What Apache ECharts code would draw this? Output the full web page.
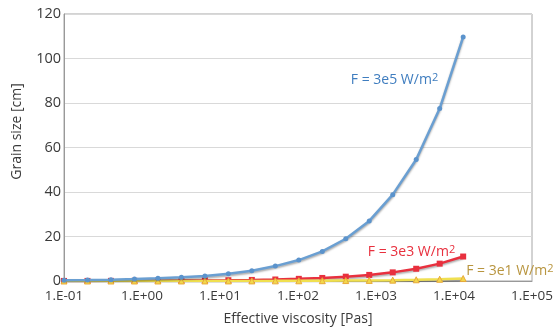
<!DOCTYPE html>
<html><head><meta charset="utf-8">
<script src="https://cdn.jsdelivr.net/npm/echarts@6/dist/echarts.min.js"></script>
<style>html,body{margin:0;padding:0;background:#fff}#c{width:558px;height:329px}</style>
</head><body><div id="c"></div>
<script>
var viscosity = [0.1, 0.2, 0.4, 0.8, 1.6, 3.2, 6.4, 12.8, 25.6, 51.2, 102.4, 204.8, 409.6, 819.2, 1638.4, 3276.8, 6553.6, 13107.2];
var grain3e5 = [0.30, 0.43, 0.61, 0.86, 1.21, 1.7, 2.3, 3.3, 4.6, 6.7, 9.4, 13.3, 19.0, 27.0, 38.8, 54.6, 77.5, 109.7];
var grain3e3 = [0.03, 0.04, 0.06, 0.09, 0.12, 0.17, 0.24, 0.34, 0.48, 0.68, 0.97, 1.37, 1.94, 2.74, 3.88, 5.5, 7.8, 11.0];
var grain3e1 = [0.003, 0.004, 0.006, 0.009, 0.012, 0.017, 0.024, 0.034, 0.048, 0.068, 0.097, 0.137, 0.194, 0.274, 0.388, 0.55, 0.78, 1.1];
var xTickLabels = ['1.E-01', '1.E+00', '1.E+01', '1.E+02', '1.E+03', '1.E+04', '1.E+05'];
var seriesNames = ['F = 3e5 W/m', 'F = 3e3 W/m', 'F = 3e1 W/m'];

var FONT = 'Open Sans';
var TXT = '#3a3a3a';
function pairs(ys){ return viscosity.map(function(v,i){ return [v, ys[i]]; }); }
function shadowLine(color){
  return {color: color, width: 2.5, shadowColor: 'rgba(0,0,0,0.35)', shadowBlur: 2, shadowOffsetY: 1.5};
}
function endLbl(name, color, align, offset){
  return {
    show: true, align: align, offset: offset,
    formatter: function(){ return '{m|' + name + '}{s|2}'; },
    rich: {
      m: {fontFamily: FONT, fontSize: 14, color: color, lineHeight: 16},
      s: {fontFamily: FONT, fontSize: 11, color: color, lineHeight: 16, padding: [0,0,4,0]}
    }
  };
}
var chart = echarts.init(document.getElementById('c'));
chart.setOption({
  animation: false,
  grid: {left: 64, right: 26, top: 14, bottom: 48, outerBoundsMode: 'none', containLabel: false, show: true, borderColor: '#a6a6a6', borderWidth: 1},
  xAxis: {
    type: 'log', logBase: 10, min: 0.1, max: 100000,
    name: 'Effective viscosity [Pas]', nameLocation: 'middle', nameGap: 31,
    nameTextStyle: {fontFamily: FONT, fontSize: 14, color: TXT},
    axisLine: {show: true, lineStyle: {color: '#999'}},
    axisTick: {show: false},
    minorTick: {show: false},
    splitLine: {show: false},
    axisLabel: {
      fontFamily: FONT, fontSize: 13.5, color: TXT, margin: 8,
      formatter: function(v){ var n = Math.round(Math.log10(v)); return xTickLabels[n + 1]; }
    }
  },
  yAxis: {
    type: 'value', min: 0, max: 120, interval: 20,
    name: 'Grain size [cm]', nameLocation: 'middle', nameGap: 40,
    nameTextStyle: {fontFamily: FONT, fontSize: 14, color: TXT, padding: [0,0,0,32]},
    axisLine: {show: true, lineStyle: {color: '#999'}},
    axisTick: {show: false},
    splitLine: {lineStyle: {color: '#d9d9d9'}},
    axisLabel: {fontFamily: FONT, fontSize: 14.5, color: TXT, margin: 3}
  },
  series: [
    {
      name: seriesNames[2], type: 'line', data: pairs(grain3e1), z: 3,
      symbol: 'triangle', symbolSize: 6,
      lineStyle: shadowLine('#f0e050'),
      itemStyle: {color: '#f2d84a', borderColor: '#e8a83a', borderWidth: 1},
      endLabel: endLbl(seriesNames[2], '#b8953f', 'left', [-5, -8])
    },
    {
      name: seriesNames[1], type: 'line', data: pairs(grain3e3), z: 2,
      symbol: 'rect', symbolSize: 6,
      lineStyle: shadowLine('#e8303e'),
      itemStyle: {color: '#e8303e'},
      endLabel: endLbl(seriesNames[1], '#e8303e', 'right', [-16, -5])
    },
    {
      name: seriesNames[0], type: 'line', data: pairs(grain3e5), z: 4,
      symbol: 'circle', symbolSize: 5,
      lineStyle: shadowLine('#6a9fd2'),
      itemStyle: {color: '#5b93cc'},
      endLabel: endLbl(seriesNames[0], '#3f7dbf', 'right', [-33, 43])
    }
  ]
});
</script></body></html>
